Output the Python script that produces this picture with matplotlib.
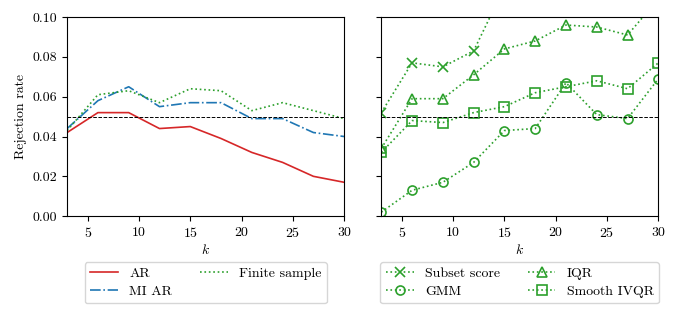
import matplotlib
matplotlib.use('Agg')
import matplotlib.pyplot as plt
import numpy as np

plt.rcParams['font.family'] = 'serif'
plt.rcParams['font.serif'] = ['cmr10', 'DejaVu Serif']
plt.rcParams['mathtext.fontset'] = 'cm'
plt.rcParams['axes.formatter.use_mathtext'] = True
plt.rcParams['font.size'] = 10

k = [3, 6, 9, 12, 15, 18, 21, 24, 27, 30]

ar = [0.042, 0.052, 0.052, 0.044, 0.045, 0.039, 0.032, 0.027, 0.020, 0.017]
mi_ar = [0.044, 0.058, 0.065, 0.055, 0.057, 0.057, 0.049, 0.049, 0.042, 0.040]
finite = [0.043, 0.061, 0.063, 0.057, 0.064, 0.063, 0.053, 0.057, 0.053, 0.049]

subset_score = [0.052, 0.077, 0.075, 0.083, 0.115, 0.125, 0.135, 0.14, 0.145, 0.15]
gmm = [0.002, 0.013, 0.017, 0.027, 0.043, 0.044, 0.067, 0.051, 0.049, 0.069]
iqr = [0.034, 0.059, 0.059, 0.071, 0.084, 0.088, 0.096, 0.095, 0.091, 0.109]
smooth_ivqr = [0.032, 0.048, 0.047, 0.052, 0.055, 0.062, 0.065, 0.068, 0.064, 0.077]

green = 'tab:green'

fig, (ax1, ax2) = plt.subplots(1, 2, figsize=(6.78, 3.16), dpi=100, sharey=True)
fig.subplots_adjust(left=0.099, right=0.971, top=0.946, bottom=0.316, wspace=0.134)

ax1.plot(k, ar, color='tab:red', linestyle='-', lw=1.2, label='AR')
ax1.plot(k, mi_ar, color='tab:blue', linestyle='-.', lw=1.2, label='MI AR')
ax1.plot(k, finite, color=green, linestyle=':', lw=1.2, label='Finite sample')

mk = dict(color=green, linestyle=':', lw=1.2, fillstyle='none', markersize=6.5, mew=1.2)
ax2.plot(k, subset_score, marker='x', label='Subset score', **mk)
ax2.plot(k, gmm, marker='o', label='GMM', **mk)
ax2.plot(k, iqr, marker='^', label='IQR', **mk)
ax2.plot(k, smooth_ivqr, marker='s', label='Smooth IVQR', **mk)

for ax in (ax1, ax2):
    ax.axhline(0.05, color='black', linestyle='--', lw=0.7)
    ax.set_xlim(3, 30)
    ax.set_ylim(0, 0.1)
    ax.set_xticks([5, 10, 15, 20, 25, 30])
    ax.set_xlabel('$k$', labelpad=2)
    ax.legend(loc='upper center', bbox_to_anchor=(0.5, -0.195), ncol=2, labelspacing=0.35)

ax1.set_yticks([0, 0.02, 0.04, 0.06, 0.08, 0.1])
ax1.set_yticklabels(['0.00', '0.02', '0.04', '0.06', '0.08', '0.10'])
ax1.set_ylabel('Rejection rate')

fig.savefig('out.png', dpi=100)
